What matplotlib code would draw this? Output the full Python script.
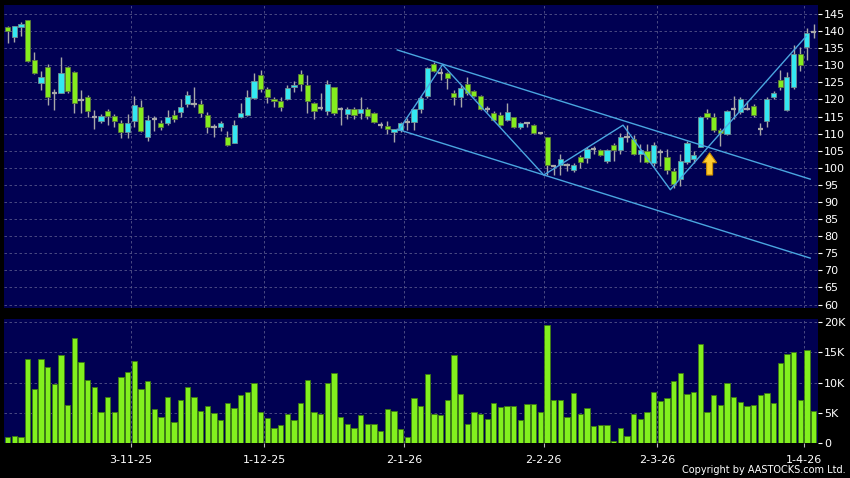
import numpy as np
import matplotlib
matplotlib.use("Agg")
import matplotlib.pyplot as plt
from matplotlib.patches import FancyArrow

# daily OHLC, one entry per trading session (122 sessions)
opens = [141.1, 138.4, 141.3, 143.2, 131.5, 124.9, 129.4, 122.0, 122.0, 129.4,
         128.0, 119.9, 120.6, 115.0, 113.8, 116.5, 115.2, 113.0, 110.5, 113.8,
         117.9, 108.9, 114.2, 113.0, 113.2, 115.4, 116.2, 118.7, 118.7, 118.7,
         115.6, 111.9, 111.9, 108.9, 107.4, 114.8, 115.4, 120.4, 127.1, 123.0,
         120.0, 119.6, 120.0, 123.6, 127.5, 124.3, 118.9, 117.6, 116.7, 123.6,
         117.1, 115.8, 117.1, 116.1, 117.1, 116.1, 112.6, 112.2, 110.5, 111.1,
         113.5, 113.4, 117.1, 121.0, 130.4, 127.8, 127.8, 121.8, 120.8, 124.4,
         122.4, 121.0, 117.3, 116.0, 115.4, 114.0, 114.8, 111.9, 113.0, 112.6,
         110.3, 108.9, 100.6, 100.8, 100.8, 99.4, 103.3, 102.9, 105.4, 105.2,
         101.9, 106.6, 105.2, 109.1, 108.5, 104.1, 104.9, 101.5, 104.6, 103.3,
         99.2, 96.7, 101.7, 102.5, 106.2, 116.0, 114.8, 111.0, 109.9, 117.3,
         116.3, 117.3, 118.1, 111.5, 113.8, 120.8, 125.6, 116.9, 123.6, 133.3,
         135.3, 139.7]
highs = [141.4, 141.6, 142.7, 143.3, 133.9, 128.2, 130.4, 123.2, 132.3, 129.8,
         128.2, 122.8, 121.4, 116.9, 115.7, 117.3, 115.7, 114.0, 115.8, 121.0,
         119.9, 115.4, 115.2, 114.0, 116.9, 116.9, 120.0, 122.4, 123.6, 119.9,
         116.3, 112.8, 113.8, 110.7, 113.9, 118.9, 122.8, 127.7, 128.6, 123.7,
         120.8, 120.8, 124.2, 125.3, 128.6, 127.1, 119.3, 121.8, 125.7, 123.6,
         117.7, 117.7, 117.7, 120.8, 117.7, 116.3, 113.5, 113.7, 111.5, 113.5,
         114.6, 117.3, 121.0, 129.5, 131.0, 129.1, 128.0, 122.8, 124.2, 126.7,
         122.8, 121.2, 118.0, 116.5, 116.4, 119.1, 115.0, 113.5, 113.5, 112.8,
         110.6, 109.0, 100.8, 104.0, 101.4, 101.4, 103.8, 106.0, 106.5, 105.6,
         105.6, 107.4, 110.2, 112.5, 109.6, 107.0, 107.0, 107.6, 105.6, 105.4,
         100.0, 104.0, 108.0, 105.0, 115.2, 117.3, 116.0, 111.8, 117.0, 121.0,
         120.6, 119.5, 118.6, 113.0, 120.6, 122.6, 128.6, 128.0, 135.9, 135.4,
         141.0, 142.1]
lows = [136.6, 136.8, 138.6, 131.0, 127.6, 122.8, 118.5, 116.9, 121.8, 121.8,
        116.0, 116.0, 115.0, 111.5, 113.2, 112.6, 112.0, 108.7, 108.7, 112.0,
        110.5, 108.0, 110.9, 111.0, 112.6, 113.4, 115.0, 117.9, 117.7, 114.8,
        110.3, 109.1, 110.7, 106.4, 107.2, 114.6, 115.2, 120.2, 122.2, 119.1,
        117.9, 116.7, 119.8, 122.2, 122.4, 116.0, 114.4, 116.9, 115.4, 115.4,
        112.6, 114.2, 114.3, 114.4, 114.3, 113.0, 111.8, 110.0, 107.6, 110.4,
        111.1, 111.1, 116.0, 120.5, 128.0, 125.7, 123.0, 118.4, 117.9, 121.3,
        120.6, 116.8, 116.2, 113.6, 112.2, 113.6, 111.6, 111.5, 112.0, 109.9,
        109.9, 97.9, 98.0, 97.9, 99.0, 98.8, 100.0, 101.4, 104.2, 103.4,
        101.4, 102.1, 104.0, 107.7, 103.7, 101.6, 101.4, 100.4, 100.4, 98.2,
        94.2, 94.6, 101.0, 101.5, 106.0, 114.2, 110.5, 106.5, 109.6, 114.4,
        115.9, 116.9, 115.0, 109.5, 111.9, 120.0, 122.8, 116.5, 123.0, 128.4,
        131.5, 137.9]
closes = [139.9, 141.5, 142.1, 131.3, 127.8, 126.5, 120.8, 122.0, 127.7, 122.6,
          119.1, 119.9, 116.5, 115.0, 115.2, 115.2, 113.8, 110.5, 113.2, 118.3,
          110.9, 114.0, 114.2, 112.0, 115.0, 114.2, 117.7, 121.4, 118.7, 116.1,
          111.9, 111.9, 113.0, 106.8, 112.4, 116.1, 120.6, 125.5, 123.0, 120.6,
          119.5, 117.9, 123.4, 124.3, 124.5, 119.5, 116.7, 117.6, 124.5, 116.1,
          117.1, 117.1, 115.6, 117.1, 115.2, 113.4, 112.6, 111.5, 111.3, 113.0,
          113.5, 117.1, 120.3, 129.1, 128.2, 127.8, 126.2, 120.6, 123.3, 122.0,
          121.0, 117.1, 117.3, 114.0, 112.5, 116.4, 112.0, 113.2, 113.0, 110.3,
          110.3, 100.8, 100.6, 102.5, 100.8, 100.8, 101.6, 105.4, 105.4, 103.7,
          105.2, 105.2, 108.9, 109.1, 104.1, 105.2, 101.7, 106.8, 104.6, 99.4,
          95.3, 101.9, 107.2, 103.7, 114.8, 114.8, 111.1, 110.2, 116.5, 117.3,
          120.0, 117.3, 115.4, 111.5, 120.0, 121.8, 123.6, 126.5, 133.3, 130.2,
          139.5, 139.7]
# volume in thousands of shares
volumes_k = [1.0, 1.2, 1.0, 13.8, 8.9, 13.9, 12.6, 9.8, 14.6, 6.3,
             17.4, 13.4, 10.5, 9.2, 5.1, 7.7, 5.1, 11.0, 11.8, 13.5,
             8.9, 10.3, 5.6, 4.4, 7.7, 3.5, 7.1, 9.2, 7.6, 5.3,
             6.2, 5.0, 3.9, 6.6, 5.9, 8.0, 8.4, 10.0, 5.2, 4.2,
             2.5, 3.1, 4.8, 3.9, 6.7, 10.4, 5.1, 4.8, 10.0, 11.5,
             4.4, 3.2, 2.5, 4.7, 3.2, 3.2, 2.0, 5.6, 5.4, 2.4,
             1.0, 7.4, 6.1, 11.4, 4.8, 4.6, 7.2, 14.5, 8.2, 3.2,
             5.2, 4.9, 4.0, 6.7, 6.0, 6.2, 6.2, 3.8, 6.5, 6.5,
             5.2, 19.5, 7.1, 7.1, 4.3, 8.3, 4.9, 5.9, 2.8, 3.1,
             3.0, 0.4, 2.5, 1.3, 4.8, 4.0, 5.2, 8.4, 6.9, 7.4,
             10.2, 11.6, 8.2, 8.4, 16.3, 5.1, 7.9, 6.3, 9.9, 7.6,
             6.8, 6.2, 6.3, 7.9, 8.3, 6.6, 13.3, 14.7, 15.0, 7.2,
             15.4, 5.3]

date_labels = ["3-11-25", "1-12-25", "2-1-26", "2-2-26", "2-3-26", "1-4-26"]
date_index = [19, 39, 60, 81, 98, 120]

price_ticks = list(range(60, 150, 5))
vol_ticks = [0, 5, 10, 15, 20]
vol_tick_labels = ["0", "5K", "10K", "15K", "20K"]

# trend lines drawn on the chart, as (bar index, price)
upper_channel = [(58.5, 134.5), (120.5, 96.7)]
lower_channel = [(58.5, 111.3), (120.5, 73.6)]
zigzag = [(58.7, 111.0), (65.3, 130.2), (80.5, 97.9), (92.4, 112.5),
          (99.5, 93.6), (119.9, 138.5)]
# buy signal arrow: bar index, base price, tip price
signal_arrow = (105.4, 97.9, 104.4)

BG = "#000052"
GRID = "#55558a"
UP = "#33e8f2"
DOWN = "#84ec1e"
WICK = "#a8a8a8"
VOL = "#82f01e"
LINE = "#4aa6e0"


def style_axis(ax):
    ax.set_facecolor(BG)
    for s in ax.spines.values():
        s.set_visible(False)
    ax.yaxis.tick_right()
    ax.tick_params(axis="y", colors="white", labelsize=8, length=3,
                   width=0.8, pad=1.5)
    ax.tick_params(axis="x", colors="white", labelsize=8, length=3,
                   width=0.8, pad=5)
    ax.set_xticks([d - 0.5 for d in date_index])
    ax.grid(True, color=GRID, ls=(0, (3, 3)), lw=0.6)
    ax.set_axisbelow(True)
    ax.set_xlim(-0.55, 121.6)


fig = plt.figure(figsize=(8.5, 4.78), dpi=100, facecolor="black")
ax = fig.add_axes([0.00471, 0.35565, 0.95706, 0.63285])
axv = fig.add_axes([0.00471, 0.07218, 0.95706, 0.25983])
style_axis(ax)
style_axis(axv)

o = np.array(opens)
h = np.array(highs)
l = np.array(lows)
c = np.array(closes)
x = np.arange(len(o))

# candles
ax.vlines(x, l, h, color=WICK, lw=1, zorder=2)
up = c > o
down = c < o
flat = c == o
ax.bar(x[up], (c - o)[up], bottom=o[up], width=0.78, color=UP,
       edgecolor="#6f8f93", lw=0.6, zorder=3)
ax.bar(x[down], (o - c)[down], bottom=c[down], width=0.78, color=DOWN,
       edgecolor="#5e7a3c", lw=0.6, zorder=3)
ax.hlines(c[flat], x[flat] - 0.4, x[flat] + 0.4, color=WICK, lw=1.6, zorder=3)

# trend lines
for line in (upper_channel, lower_channel, zigzag):
    xs, ys = zip(*line)
    ax.plot(xs, ys, color=LINE, lw=1, zorder=4)

bx, b0, b1 = signal_arrow
ax.add_patch(FancyArrow(bx, b0, 0, b1 - b0, width=0.9, head_width=2.1,
                        head_length=2.9, length_includes_head=True,
                        facecolor="#ffcc30", edgecolor="#c88a00", lw=0.8,
                        zorder=5))

ax.set_ylim(59.0, 147.5)
ax.set_yticks(price_ticks)
ax.set_yticklabels([str(p) for p in price_ticks])
ax.tick_params(axis="x", length=0, labelbottom=False)

# volume
axv.bar(x, volumes_k, width=0.8, color=VOL, edgecolor="#3d7a12", lw=0.6,
        zorder=3)
axv.set_ylim(0, 20.4)
axv.set_yticks(vol_ticks)
axv.set_yticklabels(vol_tick_labels)
axv.set_xticklabels(date_labels)
axv.tick_params(axis="x", colors="#bbbbbb", labelcolor="white")

fig.text(0.995, 0.006, "Copyright by AASTOCKS.com Ltd.", color="white",
         fontsize=7, ha="right", va="bottom")

fig.savefig("out.png", dpi=100, facecolor="black")
